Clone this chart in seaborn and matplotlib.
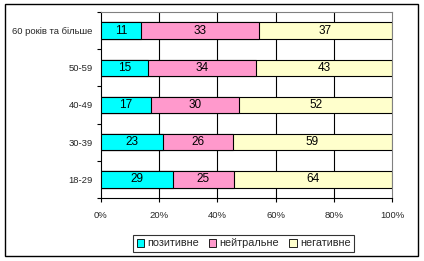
import matplotlib
matplotlib.use("Agg")
import matplotlib.pyplot as plt
import seaborn as sns
import numpy as np
import pandas as pd
from matplotlib.patches import Patch, Rectangle
from matplotlib.ticker import FixedLocator

categories = ["60 років та більше", "50-59", "40-49", "30-39", "18-29"]
series_names = ["позитивне", "нейтральне", "негативне"]
pozytyvne = [11, 15, 17, 23, 29]
neitralne = [33, 34, 30, 26, 25]
negatyvne = [37, 43, 52, 59, 64]
colors = ["#00FFFF", "#FF99CC", "#FFFFCC"]
xtick_labels = ["0%", "20%", "40%", "60%", "80%", "100%"]

sns.set_style("white")
plt.rcParams["font.family"] = ["Liberation Sans", "DejaVu Sans"]

vals = np.array([pozytyvne, neitralne, negatyvne], dtype=float)
totals = vals.sum(axis=0)
pct = vals / totals * 100
cum = np.cumsum(pct, axis=0)

fig = plt.figure(figsize=(4.24, 2.61), dpi=100)
fig.patches.append(Rectangle((5/424, 5/261), 413/424, 252/261, transform=fig.transFigure,
                             fill=False, edgecolor="black", linewidth=1.0, zorder=0))
ax = fig.add_axes([101/424, 63/261, 291/424, 186/261])

for i in range(2, -1, -1):
    df = pd.DataFrame({"cat": categories, "v": cum[i]})
    sns.barplot(data=df, x="v", y="cat", orient="h", color=colors[i], saturation=1,
                edgecolor="black", linewidth=0.8, width=0.44, ax=ax, zorder=3)

for i in range(3):
    starts = cum[i] - pct[i]
    for j in range(len(categories)):
        ax.text(starts[j] + pct[i][j] / 2, j, str(int(vals[i][j])), ha="center", va="center",
                fontsize=8.5, color="black", zorder=5)

ax.set_xlim(0, 100)
ax.set_ylim(len(categories) - 0.5, -0.5)
ax.set_xticks([0, 20, 40, 60, 80, 100])
ax.set_xticklabels(xtick_labels, fontsize=6.8)
ax.set_ylabel("")
ax.set_xlabel("")
ax.tick_params(axis="y", which="major", length=0, labelsize=6.8, pad=6)
ax.yaxis.set_minor_locator(FixedLocator(np.arange(-0.5, len(categories), 1.0)))
ax.tick_params(axis="y", which="minor", length=3, width=0.8, color="black", left=True)
ax.tick_params(axis="x", which="major", length=3, width=0.8, color="black", bottom=True, pad=6)

for x in [20, 40, 60, 80]:
    ax.axvline(x, color="black", linewidth=0.8, zorder=1)

for side in ["left", "bottom"]:
    ax.spines[side].set_color("black")
    ax.spines[side].set_linewidth(0.8)
for side in ["top", "right"]:
    ax.spines[side].set_color("#808080")
    ax.spines[side].set_linewidth(0.8)

handles = [Patch(facecolor=c, edgecolor="black", linewidth=0.6) for c in colors]
leg = fig.legend(handles, series_names, loc="center", bbox_to_anchor=(243.5/424, (261-243.5)/261),
                 ncol=3, fontsize=7.8, frameon=True, fancybox=False, edgecolor="black",
                 handlelength=0.7, handleheight=0.7, handletextpad=0.3, columnspacing=0.9,
                 borderpad=0.3)
leg.get_frame().set_linewidth(0.8)

fig.savefig("out.png", dpi=100)
